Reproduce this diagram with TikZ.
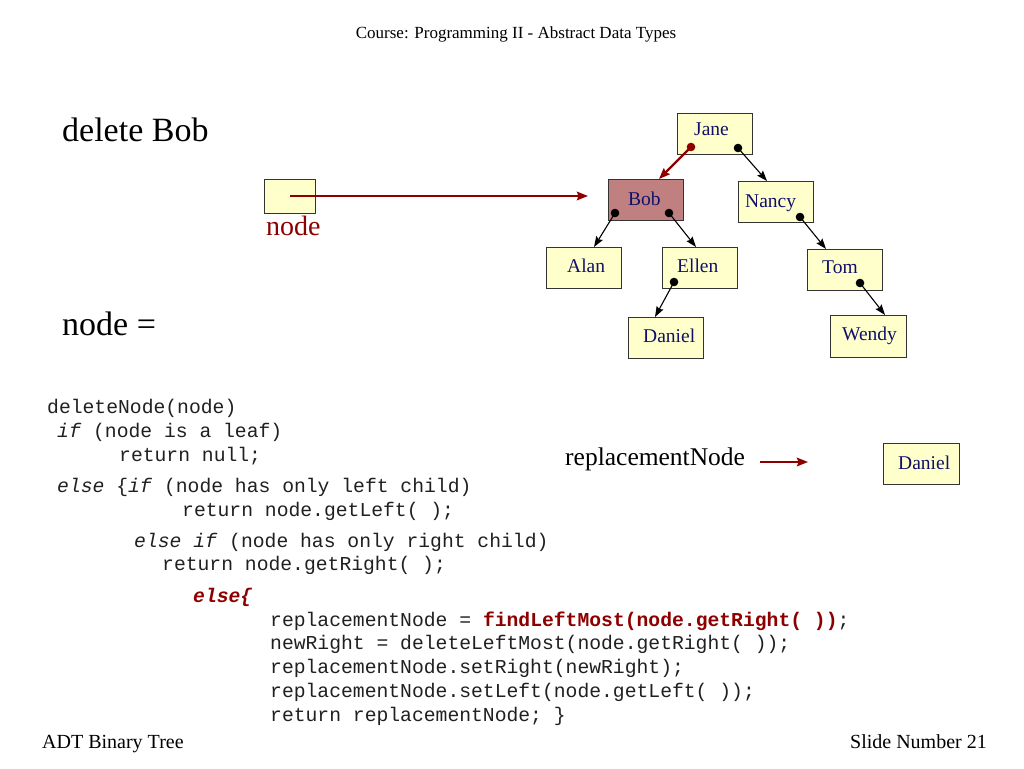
\documentclass[tikz,border=0pt]{standalone}
\usepackage{fontspec}
\setmainfont{Liberation Serif}
\setmonofont{Liberation Mono}
\usetikzlibrary{arrows.meta,calc}
\definecolor{dred}{HTML}{8E0000}
\definecolor{boxfill}{HTML}{FFFFCC}
\definecolor{bobfill}{HTML}{C08080}
\definecolor{boxline}{HTML}{333333}
\definecolor{navy}{HTML}{10106B}
\definecolor{codegray}{HTML}{202020}
\begin{document}
\begin{tikzpicture}[x=1pt,y=-1pt,
  box/.style={draw=boxline, fill=boxfill, line width=1pt, inner sep=0pt, anchor=north west, minimum width=75pt, minimum height=41pt},
  tlbl/.style={font=\fontsize{19.5}{22}\selectfont, text=navy, inner sep=0pt, anchor=base west},
  code/.style={font=\fontsize{19.7}{22}\selectfont\ttfamily, text=codegray, inner sep=0pt, anchor=base west},
  big/.style={font=\fontsize{34}{40}\selectfont, inner sep=0pt, anchor=base west},
  ptr/.style={-{Stealth[length=10.5pt,width=7.5pt,inset=1.5pt]}, line width=1.1pt},
  rptr/.style={-{Stealth[length=11pt,width=8.5pt,inset=1.5pt]}, line width=2.3pt, draw=dred}]
\useasboundingbox (0,0) rectangle (1024,768);
\fill[white] (0,0) rectangle (1024,768);

% header and footer
\node[font=\fontsize{17}{20}\selectfont, inner sep=0pt, anchor=base] (hdr) at (516,39) {Course: Programming II - Abstract Data Types};
\node[font=\fontsize{20}{24}\selectfont, inner sep=0pt, anchor=base west] (ftl) at (42,748) {ADT Binary Tree};
\node[font=\fontsize{20}{24}\selectfont, inner sep=0pt, anchor=base east] (ftr) at (987,748) {Slide Number 21};

% titles
\node[big] (title) at (62,141) {delete Bob};
\node[big] (nodeeq) at (62,335) {node =};

% node pointer box
\node[box, minimum width=51pt, minimum height=34pt] (nbox) at (264,179) {};
\node[font=\fontsize{28}{32}\selectfont, text=dred, inner sep=0pt, anchor=base west] (nlbl) at (266,235) {node};

% tree boxes
\node[box] (jane) at (677,113) {};
\node[box, fill=bobfill] (bob) at (608,179) {};
\node[box] (nancy) at (738,181) {};
\node[box] (alan) at (546,247) {};
\node[box] (ellen) at (662,247) {};
\node[box] (tom) at (807,249) {};
\node[box] (daniel) at (628,317) {};
\node[box, minimum width=76pt, minimum height=42pt] (wendy) at (830,315) {};
\node[box, minimum width=76pt, minimum height=41pt] (daniel2) at (883,443) {};

% tree labels
\node[tlbl] (janeT) at (694,135) {Jane};
\node[tlbl] (bobT) at (628,205) {Bob};
\node[tlbl] (nancyT) at (745,207) {Nancy};
\node[tlbl] (alanT) at (567,272) {Alan};
\node[tlbl] (ellenT) at (677,272) {Ellen};
\node[tlbl] (tomT) at (822,273) {Tom};
\node[tlbl] (danielT) at (643,342) {Daniel};
\node[tlbl] (wendyT) at (842,340) {Wendy};
\node[tlbl] (daniel2T) at (898,469) {Daniel};

% dots
\coordinate (janeL) at (691,147);
\coordinate (janeR) at (738,148);
\coordinate (bobL) at (615,213);
\coordinate (bobR) at (669,213);
\coordinate (nancyD) at (800,217);
\coordinate (ellenD) at (674,282);
\coordinate (tomD) at (860,283);
\coordinate (nd) at (290,196);

% connectors
\draw[rptr] (janeL) -- ($(bob.north west)+(51,0)$);
\draw[ptr] (janeR) -- ($(nancy.north west)+(29,0)$);
\draw[ptr] (bobL) -- ($(alan.north west)+(48,0)$);
\draw[ptr] (bobR) -- ($(ellen.north west)+(34,0)$);
\draw[ptr] (nancyD) -- ($(tom.north west)+(19,0)$);
\draw[ptr] (ellenD) -- ($(daniel.north west)+(27,0)$);
\draw[ptr] (tomD) -- ($(wendy.north west)+(55,0)$);
\draw[rptr, shorten >=20pt] (nd) -- (nd -| bob.west);

\fill[dred] (janeL) circle (4.3pt);
\foreach \p in {janeR,bobL,bobR,nancyD,ellenD,tomD} \fill[black] (\p) circle (4.3pt);

% replacementNode
\node[font=\fontsize{25.5}{30}\selectfont, inner sep=0pt, anchor=base west] (rn) at (565,465) {replacementNode};
\coordinate (ra) at (760,462);
\coordinate (rb) at (808,462);
\draw[rptr] (ra) -- (rb);

% code
\node[code] (c1) at (47,413) {deleteNode(node)};
\node[code] (c2) at (57,437) {\textit{if} (node is a leaf)};
\node[code] (c3) at (119,461) {return null;};
\node[code] (c4) at (57,492) {\textit{else} \{\textit{if} (node has only left child)};
\node[code] (c5) at (182,516) {return node.getLeft( );};
\node[code] (c6) at (134,547) {\textit{else if} (node has only right child)};
\node[code] (c7) at (162,570) {return node.getRight( );};
\node[code, text=dred] (c8) at (193,602) {\textbf{\textit{else\{}}};
\node[code] (c9) at (270,626) {replacementNode = \textcolor{dred}{\textbf{findLeftMost(node.getRight( ))}};};
\node[code] (c10) at (270,649) {newRight = deleteLeftMost(node.getRight( ));};
\node[code] (c11) at (270,673) {replacementNode.setRight(newRight);};
\node[code] (c12) at (270,697) {replacementNode.setLeft(node.getLeft( ));};
\node[code] (c13) at (270,721) {return replacementNode; \}};
\end{tikzpicture}
\end{document}
